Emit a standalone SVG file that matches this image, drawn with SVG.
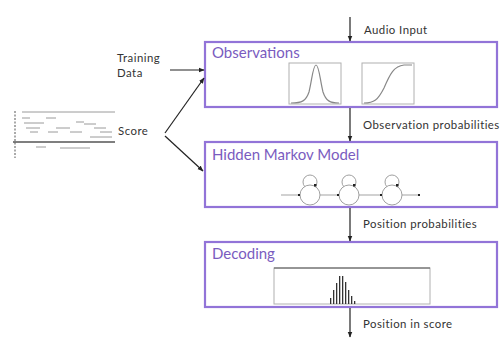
<svg xmlns="http://www.w3.org/2000/svg" width="504" height="338" viewBox="0 0 504 338">
  <defs>
    <style>
      .box { fill: #ffffff; stroke: #9274d8; stroke-width: 2.2; }
      .title { font-family: Lato, "Open Sans", sans-serif; font-size: 15px; fill: #7a5cc0; }
      .lbl { font-family: Lato, "Open Sans", sans-serif; font-size: 11.4px; letter-spacing: 0.45px; fill: #333333; }
      .side { font-family: Lato, "Open Sans", sans-serif; font-size: 11.4px; letter-spacing: 0.5px; fill: #333333; }
      .conn { stroke: #222222; stroke-width: 1.2; fill: none; }
      .plot { fill: #ffffff; stroke: #b0b0b0; stroke-width: 1; }
      .curve { fill: none; stroke: #888888; stroke-width: 1.2; }
      .state { fill: #ffffff; stroke: #a0a0a0; stroke-width: 1; }
      .trans { stroke: #999999; stroke-width: 0.9; fill: none; }
      .staff { stroke: #9a9a9a; stroke-width: 1; }
      .bar { fill: #333333; }
    </style>
    <marker id="arrow" viewBox="0 0 10 10" refX="9" refY="5" markerWidth="5" markerHeight="5" orient="auto">
      <path d="M0,1 L10,5 L0,9 z" fill="#222222"/>
    </marker>
    <marker id="dot" viewBox="0 0 10 10" refX="5" refY="5" markerWidth="3" markerHeight="3" orient="auto">
      <rect x="1" y="1" width="8" height="8" fill="#222222"/>
    </marker>
  </defs>

  <rect width="504" height="338" fill="#ffffff"/>

  <!-- Observations stage -->
  <g id="observations">
    <rect class="box" x="205" y="42" width="292" height="65"/>
    <text class="title" x="212" y="58">Observations</text>
    <rect class="plot" x="289" y="63" width="52" height="41"/>
    <path class="curve" d="M291,103 C302,103 306,101 309,92 C312,80 313,65 316,65 C319,65 320,80 323,92 C326,101 330,103 339,103"/>
    <rect class="plot" x="362" y="63" width="52" height="41"/>
    <path class="curve" d="M364,103 C374,103 378,100 384,88 C390,74 394,66 404,65 L412,65"/>
  </g>

  <!-- Hidden Markov Model stage -->
  <g id="hmm">
    <rect class="box" x="205" y="142" width="292" height="65"/>
    <text class="title" x="212" y="160">Hidden Markov Model</text>
    <g id="hmm-chain">
      <circle class="state" cx="310" cy="182" r="7"/>
      <circle class="state" cx="310" cy="195" r="10"/>
      <circle class="state" cx="349" cy="182" r="7"/>
      <circle class="state" cx="349" cy="195" r="10"/>
      <circle class="state" cx="392" cy="182" r="7"/>
      <circle class="state" cx="392" cy="195" r="10"/>
      <line class="trans" x1="281" y1="195" x2="299" y2="195" marker-end="url(#dot)"/>
      <line class="trans" x1="320" y1="195" x2="338" y2="195" marker-end="url(#dot)"/>
      <line class="trans" x1="359" y1="195" x2="381" y2="195" marker-end="url(#dot)"/>
      <line class="trans" x1="402" y1="195" x2="419" y2="195" marker-end="url(#dot)"/>
      <rect x="314" y="184" width="2.5" height="2.5" fill="#222"/>
      <rect x="353" y="184" width="2.5" height="2.5" fill="#222"/>
      <rect x="396" y="184" width="2.5" height="2.5" fill="#222"/>
    </g>
  </g>

  <!-- Decoding stage -->
  <g id="decoding">
    <rect class="box" x="205" y="242" width="292" height="65"/>
    <text class="title" x="212" y="259">Decoding</text>
    <rect class="plot" x="274" y="268" width="156" height="36"/>
    <line x1="274" y1="268" x2="430" y2="268" stroke="#555555" stroke-width="1"/>
    <g id="histogram">
      <rect class="bar" x="330" y="298" width="1.3" height="6"/>
      <rect class="bar" x="333" y="290" width="1.3" height="14"/>
      <rect class="bar" x="336" y="283" width="1.3" height="21"/>
      <rect class="bar" x="339" y="276" width="1.3" height="28"/>
      <rect class="bar" x="342" y="276" width="1.3" height="28"/>
      <rect class="bar" x="345" y="282" width="1.3" height="22"/>
      <rect class="bar" x="348" y="290" width="1.3" height="14"/>
      <rect class="bar" x="351" y="296" width="1.3" height="8"/>
      <rect class="bar" x="354" y="301" width="1.3" height="3"/>
    </g>
  </g>

  <!-- Training data input -->
  <g id="training-data">
    <text class="side" x="117" y="62">Training</text>
    <text class="side" x="117" y="77">Data</text>
  </g>

  <!-- Musical score input -->
  <g id="score">
    <g id="score-staff">
      <line x1="15" y1="111" x2="15" y2="158" stroke="#aaaaaa" stroke-width="2" stroke-dasharray="2,1.5"/>
      <line class="staff" x1="22" y1="112" x2="115" y2="112"/>
      <line class="staff" x1="22" y1="118" x2="30" y2="118"/>
      <line class="staff" x1="46" y1="118" x2="56" y2="118"/>
      <line class="staff" x1="24" y1="123" x2="44" y2="123"/>
      <line class="staff" x1="76" y1="122" x2="84" y2="122" stroke="#555"/>
      <line class="staff" x1="84" y1="124" x2="96" y2="124"/>
      <line class="staff" x1="26" y1="128" x2="40" y2="128"/>
      <line class="staff" x1="56" y1="128" x2="70" y2="128"/>
      <line class="staff" x1="94" y1="128" x2="106" y2="128"/>
      <line class="staff" x1="30" y1="132" x2="38" y2="132" stroke="#555"/>
      <line class="staff" x1="48" y1="132" x2="58" y2="132"/>
      <line class="staff" x1="70" y1="132" x2="82" y2="132"/>
      <line class="staff" x1="100" y1="132" x2="112" y2="132"/>
      <line class="staff" x1="90" y1="137" x2="112" y2="137"/>
      <line x1="13" y1="142" x2="115" y2="142" stroke="#555555" stroke-width="1.3"/>
      <line class="staff" x1="36" y1="147" x2="46" y2="147"/>
      <line class="staff" x1="60" y1="148" x2="90" y2="148"/>
    </g>
    <text class="side" x="118" y="135">Score</text>
  </g>

  <!-- Connectors -->
  <g id="connectors">
    <line class="conn" x1="350" y1="17" x2="350" y2="41" marker-end="url(#arrow)"/>
    <text class="lbl" x="364" y="34">Audio Input</text>
    <line class="conn" x1="350" y1="108" x2="350" y2="141" marker-end="url(#arrow)"/>
    <text class="lbl" x="363" y="129">Observation probabilities</text>
    <line class="conn" x1="350" y1="208" x2="350" y2="241" marker-end="url(#arrow)"/>
    <text class="lbl" x="363" y="228">Position probabilities</text>
    <line class="conn" x1="350" y1="308" x2="350" y2="337" marker-end="url(#arrow)"/>
    <text class="lbl" x="363" y="328">Position in score</text>
    <line class="conn" x1="170" y1="70" x2="204" y2="70" marker-end="url(#arrow)"/>
    <line class="conn" x1="165" y1="133" x2="204" y2="78" marker-end="url(#arrow)"/>
    <line class="conn" x1="165" y1="136" x2="203" y2="171" marker-end="url(#arrow)"/>
  </g>
</svg>
